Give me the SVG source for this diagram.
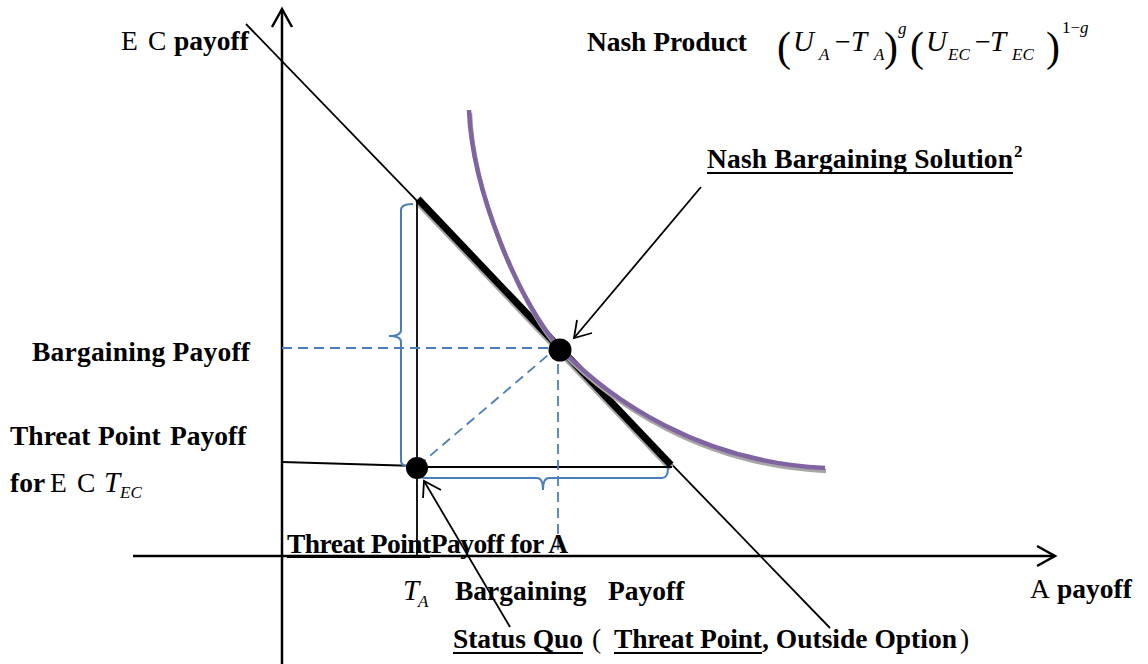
<svg xmlns="http://www.w3.org/2000/svg" width="1148" height="664" viewBox="0 0 1148 664">
<defs>
<style>
.t{font-family:"Liberation Serif","Times New Roman",serif;font-size:27.5px;font-weight:bold;fill:#000}
.r{font-weight:normal}
.i{font-style:italic;font-weight:normal}
.ln{stroke:#000;stroke-width:1.8;fill:none}
.ax{stroke:#000;stroke-width:2.5;fill:none}
.bd{stroke:#4A7EBB;stroke-width:1.8;fill:none;stroke-dasharray:10 6}
.br{stroke:#4A7EBB;stroke-width:2;fill:none}
.ul{stroke:#000;stroke-width:2}
</style>
</defs>
<rect width="1148" height="664" fill="#fff"/>

<g id="axes">
<line class="ax" x1="282" y1="664" x2="282" y2="10"/>
<polyline class="ax" points="272,27 282,9 292,27"/>
<line class="ax" x1="133" y1="556" x2="1053" y2="556"/>
<polyline class="ax" points="1037,546 1055,556 1037,566"/>
</g>

<g id="connectors">
<line class="ln" x1="246" y1="24" x2="830" y2="628"/>
<line x1="418" y1="202" x2="671" y2="468" stroke="#a6a6a6" stroke-width="7"/>
<line x1="418" y1="199" x2="671" y2="465" stroke="#000" stroke-width="7"/>
<line class="ln" x1="417" y1="200" x2="417" y2="556"/>
<line class="ln" x1="417" y1="467" x2="672" y2="467"/>
<line class="ln" x1="282" y1="462" x2="417" y2="466"/>
<line class="bd" x1="282" y1="348" x2="556" y2="348"/>
<line class="bd" x1="558" y1="348" x2="558" y2="556"/>
<line class="bd" x1="418" y1="466" x2="554" y2="350"/>
<path class="br" d="M413,204 Q401,204 401,210 L401,330 Q401,336 389,336 Q401,336 401,342 L401,461 Q401,467 413,467"/>
<path class="br" d="M418,468 Q418,478 424,478 L537,478 Q543,478 543,490 Q543,478 549,478 L662,478 Q668,478 668,468"/>
<path d="M469,110 C472,190 520,305 560,348 C610,400 700,462 825,468" fill="none" stroke="#a6a6a6" stroke-width="4.5" transform="translate(1,3)"/>
<path d="M469,110 C472,190 520,305 560,348 C610,400 700,462 825,468" fill="none" stroke="#8064A2" stroke-width="4.5"/>
<line class="ln" x1="701" y1="187" x2="574" y2="338"/>
<polyline class="ln" points="577,320 574,338 592,333"/>
<line class="ln" x1="510" y1="627" x2="424" y2="481"/>
<polyline class="ln" points="423,498 424,481 441,490"/>
</g>

<g id="nash-point"><circle cx="560" cy="350" r="11.5" fill="#000"/></g>
<g id="threat-point"><circle cx="417" cy="468" r="11" fill="#000"/></g>

<g id="labels">
<text class="t" y="50"><tspan class="r" x="121">E </tspan><tspan class="r" x="148">C </tspan><tspan x="174">payoff</tspan></text>
<text class="t" x="587" y="51" textLength="160">Nash Product</text>
<g id="formula">
<text class="t r" x="777" y="61" style="font-size:42px">(</text>
<text class="t i" x="793" y="51" style="font-size:29px">U</text>
<text class="t i" x="819" y="60" style="font-size:17px">A</text>
<text class="t r" x="835" y="51" style="font-size:28px">−</text>
<text class="t i" x="851" y="51" style="font-size:29px">T</text>
<text class="t i" x="874" y="60" style="font-size:17px">A</text>
<text class="t r" x="884" y="61" style="font-size:42px">)</text>
<text class="t i" x="898" y="34" style="font-size:17px">g</text>
<text class="t r" x="910" y="61" style="font-size:42px">(</text>
<text class="t i" x="926" y="51" style="font-size:29px">U</text>
<text class="t i" x="948" y="60" style="font-size:17px">EC</text>
<text class="t r" x="975" y="51" style="font-size:28px">−</text>
<text class="t i" x="990" y="51" style="font-size:29px">T</text>
<text class="t i" x="1012" y="60" style="font-size:17px">EC</text>
<text class="t r" x="1046" y="61" style="font-size:42px">)</text>
<text class="t r" x="1062" y="33" style="font-size:17px">1−<tspan class="i">g</tspan></text>
</g>
<text class="t" x="707" y="168" textLength="306">Nash Bargaining Solution</text>
<text class="t" x="1014" y="157" style="font-size:17px">2</text>
<line class="ul" x1="707" y1="173" x2="1013" y2="173"/>
<text class="t" x="32" y="361" textLength="218">Bargaining Payoff</text>
<text class="t" y="445"><tspan x="10">Threat </tspan><tspan x="98">Point </tspan><tspan x="170">Payoff</tspan></text>
<text class="t" x="10" y="492">for</text>
<text class="t" y="492"><tspan class="r" x="50">E </tspan><tspan class="r" x="77">C </tspan><tspan class="i" x="104" style="font-size:29px">T</tspan><tspan class="i" x="120" y="498" style="font-size:17px">EC</tspan></text>
<text class="t" x="287" y="553" textLength="281">Threat PointPayoff for A</text>
<line class="ul" x1="287" y1="557" x2="430" y2="557"/>
<text class="t i" x="403" y="600" style="font-size:29px">T</text>
<text class="t i" x="418" y="607" style="font-size:17px">A</text>
<text class="t" y="600"><tspan x="455">Bargaining </tspan><tspan x="608">Payoff</tspan></text>
<text class="t" y="598"><tspan class="r" x="1030">A </tspan><tspan x="1057">payoff</tspan></text>
<text class="t" x="453" y="648" textLength="130">Status Quo</text>
<line class="ul" x1="453" y1="653" x2="583" y2="653"/>
<text class="t" x="592" y="648" style="font-weight:normal">(</text>
<text class="t" x="614" y="648" textLength="148">Threat Point</text>
<line class="ul" x1="614" y1="653" x2="762" y2="653"/>
<text class="t" x="762" y="648" textLength="195">, Outside Option</text>
<text class="t" x="960" y="648" style="font-weight:normal">)</text>
</g>
</svg>
